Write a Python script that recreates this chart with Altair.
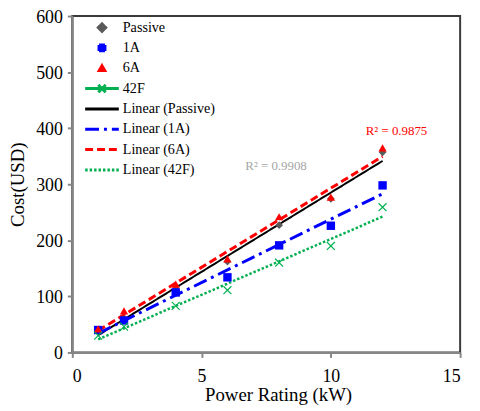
import altair as alt
import pandas as pd

# ---- data ----
power_kw = [1, 2, 4, 6, 8, 10, 12]
cost_passive = [40, 60, 113, 162, 227, 274, 357]
cost_1a = [40, 57, 107, 134, 191, 226, 298]
cost_6a = [42, 74, 122, 167, 242, 277, 365]
cost_42f = [30, 46, 83, 111, 160, 190, 259]
series_names = ["Passive", "1A", "6A", "42F"]
trend_names = ["Linear (Passive)", "Linear (1A)", "Linear (6A)", "Linear (42F)"]
r2_text = ["R² = 0.9908", "R² = 0.9875"]
r2_kw = [7.88, 12.54]
r2_cost = [325, 388]
x_ticks = [0, 5, 10, 15]
y_ticks = [0, 100, 200, 300, 400, 500, 600]

rows = []
for name, trend, vals in zip(series_names, trend_names,
                             [cost_passive, cost_1a, cost_6a, cost_42f]):
    for kw, c in zip(power_kw, vals):
        rows.append({"series": name, "trend": trend, "kw": kw, "cost": c})
df = pd.DataFrame(rows)

legend_domain = series_names + trend_names
legend_df = pd.DataFrame({"trend": legend_domain})
r2_df = pd.DataFrame({"text": r2_text, "kw": r2_kw, "cost": r2_cost})

# ---- styles ----
FONT = "Liberation Serif"
GREY_PT = "#595959"
BLUE = "#0000FF"
RED = "#FF0000"
GREEN = "#00B050"
legend_colors = [GREY_PT, BLUE, RED, GREEN, "#000000", BLUE, RED, GREEN]
EXT = "M0,-0.75M0,0.75"  # equal symbol extents so every legend row has the same height
LINE = EXT + "M-3.4,0H3.4"
legend_shapes = [
    "M0,-0.75L0.75,0L0,0.75L-0.75,0Z",
    EXT + "M-0.6,-0.6H0.6V0.6H-0.6Z",
    EXT + "M0,-0.5L0.55,0.45L-0.55,0.45Z",
    "M-3.4,0H3.4M-0.75,-0.75L0.75,0.75M-0.75,0.75L0.75,-0.75",
    LINE, LINE, LINE, LINE,
]
legend_dashes = [[1, 0], [1, 0], [1, 0], [1, 0], [1, 0], [14, 5, 3, 5], [8, 4], [2.5, 2]]

color_scale = alt.Scale(domain=legend_domain, range=legend_colors)
shape_scale = alt.Scale(domain=legend_domain, range=legend_shapes)
dash_scale = alt.Scale(domain=legend_domain, range=legend_dashes)


def leg():
    return alt.Legend(
        title=None, orient="none", legendX=22.85, legendY=4.5, padding=0,
        labelFont=FONT, labelFontSize=14.3, labelColor="black",
        symbolSize=100, symbolStrokeWidth=3, symbolOpacity=1,
        labelOffset=13.85, rowPadding=0.55,
    )


x_enc = alt.X("kw:Q", scale=alt.Scale(domain=[0, 15], nice=False),
              axis=alt.Axis(values=x_ticks, title="Power Rating (kW)",
                            titleX=208, titleY=49, titleBaseline="alphabetic",
                            labelPadding=10))
y_enc = alt.Y("cost:Q", scale=alt.Scale(domain=[0, 600], nice=False),
              axis=alt.Axis(values=y_ticks, title="Cost(USD)", titlePadding=8.5,
                            labelPadding=5, labelOffset=1.5))

base = alt.Chart(df)

# legend driver (invisible marks, only feeds the shared legend)
driver = alt.Chart(legend_df).mark_point(filled=True, size=0, opacity=1).encode(
    color=alt.Color("trend:N", scale=color_scale, legend=leg()),
    shape=alt.Shape("trend:N", scale=shape_scale, legend=leg()),
)

line_widths = [2, 3, 3, 2.5]
lines = []
for name, w in zip(series_names, line_widths):
    lines.append(
        base.transform_filter(alt.datum.series == name)
        .transform_regression("kw", "cost", groupby=["trend"])
        .mark_line(strokeWidth=w)
        .encode(
            x=x_enc, y=y_enc,
            color=alt.Color("trend:N", scale=color_scale, legend=leg()),
            strokeDash=alt.StrokeDash("trend:N", scale=dash_scale, legend=leg()),
        )
    )

pt_passive = base.transform_filter(alt.datum.series == "Passive").mark_point(
    shape="diamond", filled=True, color=GREY_PT, size=60, opacity=1).encode(x=x_enc, y=y_enc)
pt_1a = base.transform_filter(alt.datum.series == "1A").mark_point(
    shape="square", filled=True, color=BLUE, size=72, opacity=1).encode(x=x_enc, y=y_enc)
pt_6a = base.transform_filter(alt.datum.series == "6A").mark_point(
    shape="triangle-up", filled=True, color=RED, size=70, opacity=1).encode(x=x_enc, y=y_enc)
pt_42f = base.transform_filter(alt.datum.series == "42F").mark_point(
    shape="M-1,-1L1,1M-1,1L1,-1", filled=False, color=GREEN, size=64,
    strokeWidth=1.2, opacity=1).encode(x=x_enc, y=y_enc)

r2_base = alt.Chart(r2_df)
txt_grey = r2_base.transform_filter(alt.datum.text == r2_text[0]).mark_text(
    font=FONT, fontSize=13, color="#A6A6A6", align="center", baseline="alphabetic"
).encode(x=x_enc, y=y_enc, text="text:N")
txt_red = r2_base.transform_filter(alt.datum.text == r2_text[1]).mark_text(
    font=FONT, fontSize=13, color=RED, align="center", baseline="alphabetic"
).encode(x=x_enc, y=y_enc, text="text:N")

chart = alt.layer(
    driver, *lines, pt_passive, pt_1a, pt_6a, pt_42f, txt_grey, txt_red
).properties(
    width=392, height=340,
    autosize=alt.AutoSizeParams(type="none"),
    padding={"left": 65, "top": 6, "right": 12, "bottom": 53},
).configure_view(
    stroke="#3a3a3a", strokeWidth=2
).configure_axis(
    domainColor="#868686", domainWidth=2, tickColor="#868686", tickWidth=2,
    tickSize=5, grid=False, labelFont=FONT, labelFontSize=18, labelColor="black",
    titleFont=FONT, titleFontSize=19, titleFontWeight="normal", titleColor="black",
)

chart.save("out.html", embed_options={"renderer": "svg", "actions": False})
